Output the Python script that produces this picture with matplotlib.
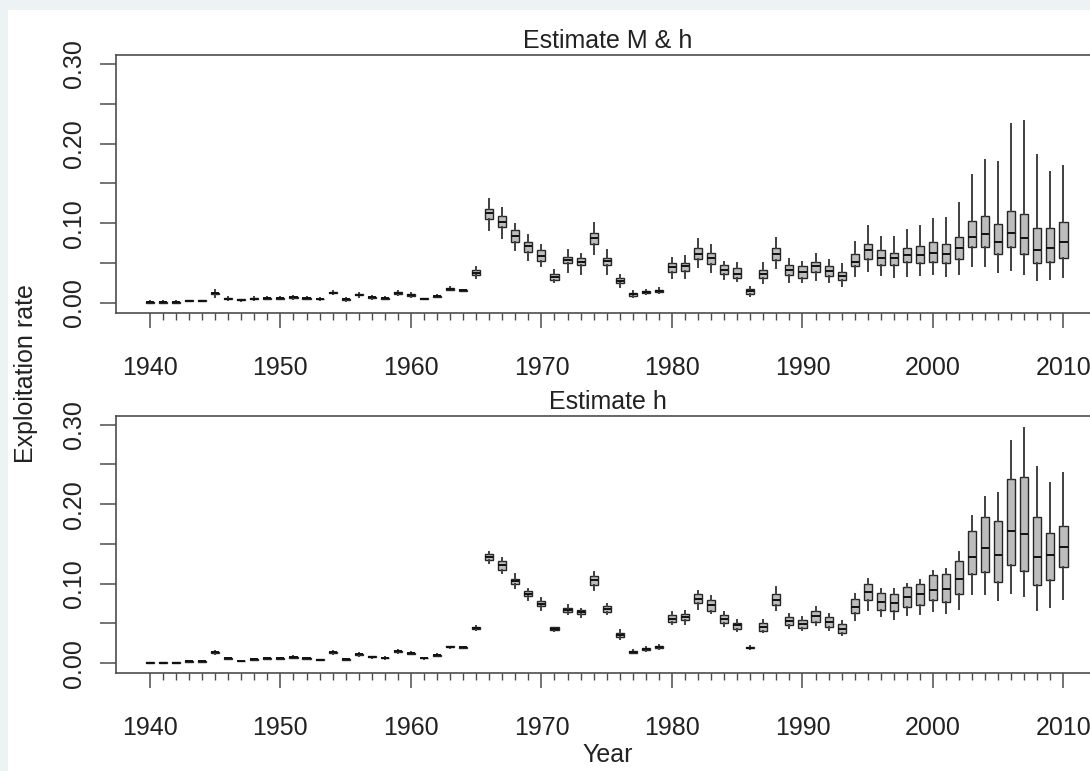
import matplotlib
matplotlib.use("Agg")
import matplotlib.pyplot as plt
from matplotlib.patches import Rectangle
from matplotlib.ticker import FixedLocator, NullFormatter

plt.rcParams['font.family'] = ['Liberation Sans', 'DejaVu Sans']

years = list(range(1940, 2011))
decades = [1940, 1950, 1960, 1970, 1980, 1990, 2000, 2010]
decade_labels = ['1940', '1950', '1960', '1970', '1980', '1990', '2000', '2010']
rate_ticks = [0.0, 0.1, 0.2, 0.3]
rate_labels = ['0.00', '0.10', '0.20', '0.30']
rate_minor = [0.05, 0.15, 0.25]

# exploitation rate summaries, run "Estimate M & h"
mh_lo = [0.000, 0.000, 0.000, 0.002, 0.002, 0.008, 0.004, 0.003, 0.004, 0.005,
         0.005, 0.005, 0.005, 0.004, 0.011, 0.003, 0.008, 0.005, 0.005, 0.010,
         0.008, 0.0045, 0.007, 0.016, 0.015, 0.032, 0.092, 0.082, 0.067, 0.054,
         0.046, 0.027, 0.039, 0.036, 0.062, 0.037, 0.020, 0.007, 0.011, 0.012,
         0.032, 0.031, 0.045, 0.039, 0.030, 0.028, 0.009, 0.0255, 0.0435, 0.027,
         0.027, 0.029, 0.027, 0.021, 0.034, 0.0405, 0.035, 0.033, 0.034, 0.035,
         0.037, 0.034, 0.037, 0.046, 0.046, 0.039, 0.042, 0.037, 0.029, 0.030,
         0.033]
mh_q1 = [0.0005, 0.0005, 0.0005, 0.0025, 0.0025, 0.011, 0.005, 0.0035, 0.005, 0.0055,
         0.0055, 0.006, 0.0055, 0.0045, 0.012, 0.004, 0.0095, 0.0065, 0.0055, 0.0115,
         0.009, 0.005, 0.008, 0.017, 0.0155, 0.035, 0.105, 0.095, 0.077, 0.064,
         0.053, 0.029, 0.050, 0.048, 0.074, 0.048, 0.025, 0.009, 0.0125, 0.0135,
         0.039, 0.0405, 0.055, 0.049, 0.037, 0.031, 0.011, 0.031, 0.054, 0.035,
         0.032, 0.039, 0.034, 0.029, 0.046, 0.055, 0.048, 0.048, 0.051, 0.050,
         0.052, 0.050, 0.055, 0.070, 0.070, 0.0615, 0.070, 0.0615, 0.050, 0.052,
         0.057]
mh_med = [0.001, 0.001, 0.001, 0.003, 0.003, 0.012, 0.0055, 0.004, 0.0055, 0.006,
          0.006, 0.007, 0.006, 0.005, 0.013, 0.0045, 0.0105, 0.007, 0.006, 0.0125,
          0.010, 0.0055, 0.0084, 0.018, 0.016, 0.038, 0.1125, 0.102, 0.084, 0.071,
          0.059, 0.033, 0.054, 0.052, 0.081, 0.053, 0.028, 0.011, 0.014, 0.0155,
          0.045, 0.046, 0.062, 0.056, 0.042, 0.037, 0.0146, 0.036, 0.062, 0.042,
          0.039, 0.046, 0.0405, 0.034, 0.052, 0.066, 0.057, 0.056, 0.060, 0.060,
          0.063, 0.0615, 0.069, 0.083, 0.087, 0.076, 0.088, 0.081, 0.067, 0.069,
          0.077]
mh_q3 = [0.0015, 0.0015, 0.0015, 0.0035, 0.0035, 0.013, 0.006, 0.0045, 0.006, 0.0065,
         0.0065, 0.008, 0.0065, 0.0055, 0.014, 0.005, 0.0115, 0.0075, 0.0065, 0.0135,
         0.011, 0.006, 0.009, 0.019, 0.0165, 0.041, 0.1175, 0.109, 0.092, 0.077,
         0.066, 0.037, 0.058, 0.056, 0.088, 0.057, 0.031, 0.013, 0.0155, 0.017,
         0.050, 0.0505, 0.069, 0.063, 0.048, 0.0435, 0.0175, 0.041, 0.069, 0.048,
         0.046, 0.052, 0.046, 0.039, 0.0615, 0.074, 0.066, 0.063, 0.069, 0.071,
         0.076, 0.074, 0.083, 0.103, 0.109, 0.099, 0.116, 0.112, 0.094, 0.094,
         0.102]
mh_hi = [0.002, 0.002, 0.002, 0.004, 0.004, 0.016, 0.007, 0.005, 0.007, 0.008,
         0.008, 0.009, 0.007, 0.006, 0.015, 0.006, 0.013, 0.009, 0.007, 0.015,
         0.012, 0.0065, 0.010, 0.020, 0.017, 0.045, 0.130, 0.119, 0.099, 0.085,
         0.073, 0.041, 0.066, 0.062, 0.100, 0.067, 0.035, 0.0155, 0.016, 0.019,
         0.056, 0.059, 0.080, 0.073, 0.052, 0.050, 0.020, 0.050, 0.081, 0.055,
         0.052, 0.062, 0.054, 0.049, 0.076, 0.097, 0.083, 0.083, 0.092, 0.097,
         0.105, 0.107, 0.125, 0.161, 0.180, 0.177, 0.225, 0.228, 0.186, 0.164,
         0.172]

# exploitation rate summaries, run "Estimate h"
h_lo = [0.000, 0.000, 0.000, 0.001, 0.001, 0.012, 0.005, 0.002, 0.0038, 0.005,
        0.005, 0.006, 0.005, 0.0035, 0.012, 0.0035, 0.009, 0.007, 0.005, 0.013,
        0.011, 0.0055, 0.009, 0.019, 0.019, 0.042, 0.126, 0.1133, 0.0949, 0.0799,
        0.0673, 0.0406, 0.0615, 0.0581, 0.0916, 0.0615, 0.0297, 0.0121, 0.0155, 0.018,
        0.0489, 0.0497, 0.0686, 0.0632, 0.0464, 0.0405, 0.0175, 0.0389, 0.0665, 0.0447,
        0.0414, 0.0477, 0.0422, 0.0351, 0.0548, 0.0673, 0.059, 0.056, 0.0602, 0.0623,
        0.0657, 0.0632, 0.0686, 0.0866, 0.0866, 0.079, 0.0883, 0.084, 0.0673, 0.0707,
        0.0811]
h_q1 = [0.000, 0.000, 0.000, 0.0015, 0.0015, 0.013, 0.0055, 0.0022, 0.0042, 0.0055,
        0.0055, 0.0065, 0.0055, 0.0038, 0.013, 0.004, 0.010, 0.0075, 0.0058, 0.014,
        0.0115, 0.006, 0.0095, 0.020, 0.0193, 0.043, 0.130, 0.1175, 0.0991, 0.084,
        0.0715, 0.0414, 0.0649, 0.0615, 0.0979, 0.0649, 0.033, 0.013, 0.0163, 0.019,
        0.0518, 0.0539, 0.0757, 0.0657, 0.0506, 0.0435, 0.0188, 0.0405, 0.0728, 0.0477,
        0.0447, 0.0518, 0.0456, 0.038, 0.0632, 0.079, 0.0665, 0.0657, 0.0707, 0.0728,
        0.079, 0.077, 0.0866, 0.1116, 0.1146, 0.102, 0.123, 0.1158, 0.0979, 0.1041,
        0.1209]
h_med = [0.0004, 0.0004, 0.0004, 0.002, 0.002, 0.0138, 0.0059, 0.0025, 0.0046, 0.0059,
         0.0059, 0.0071, 0.0059, 0.0042, 0.0138, 0.0046, 0.0109, 0.008, 0.0063, 0.0146,
         0.0121, 0.0063, 0.010, 0.0205, 0.0197, 0.0443, 0.1334, 0.123, 0.1033, 0.0874,
         0.0749, 0.0431, 0.0673, 0.0648, 0.1041, 0.0682, 0.0356, 0.0142, 0.018, 0.0205,
         0.056, 0.0581, 0.0811, 0.0728, 0.056, 0.0477, 0.0196, 0.0456, 0.0799, 0.0531,
         0.0497, 0.059, 0.0518, 0.0435, 0.0707, 0.0895, 0.0769, 0.0757, 0.0833, 0.0866,
         0.0924, 0.0937, 0.1062, 0.1334, 0.1451, 0.1355, 0.1661, 0.1627, 0.1334, 0.1355,
         0.146]
h_q3 = [0.001, 0.001, 0.001, 0.0025, 0.0025, 0.0145, 0.0065, 0.003, 0.005, 0.0065,
        0.0065, 0.0078, 0.0065, 0.0048, 0.0145, 0.005, 0.0115, 0.0085, 0.0068, 0.0152,
        0.0127, 0.0068, 0.0105, 0.021, 0.020, 0.0455, 0.1368, 0.1284, 0.1062, 0.0907,
        0.0782, 0.0448, 0.0699, 0.0673, 0.1091, 0.0715, 0.0381, 0.0155, 0.0196, 0.022,
        0.0602, 0.0623, 0.0866, 0.0799, 0.0602, 0.0506, 0.0205, 0.0506, 0.0874, 0.0582,
        0.0548, 0.0657, 0.0582, 0.0489, 0.0811, 0.0999, 0.0882, 0.0874, 0.0958, 0.0999,
        0.1104, 0.1116, 0.1284, 0.1661, 0.1836, 0.1794, 0.2317, 0.2338, 0.1836, 0.1635,
        0.1731]
h_hi = [0.0012, 0.0012, 0.0012, 0.003, 0.003, 0.0155, 0.007, 0.0032, 0.0055, 0.007,
        0.007, 0.0085, 0.007, 0.0052, 0.0155, 0.0055, 0.0125, 0.009, 0.0075, 0.017,
        0.0135, 0.007, 0.011, 0.022, 0.0205, 0.047, 0.1397, 0.1326, 0.1125, 0.0937,
        0.0824, 0.0456, 0.0728, 0.0686, 0.1146, 0.0749, 0.0414, 0.0163, 0.0205, 0.023,
        0.0644, 0.0657, 0.0907, 0.084, 0.0644, 0.0539, 0.0215, 0.0539, 0.0958, 0.0615,
        0.0582, 0.0707, 0.0623, 0.0531, 0.0874, 0.1062, 0.0937, 0.0937, 0.0999, 0.1049,
        0.1158, 0.1187, 0.1397, 0.1857, 0.2095, 0.2137, 0.2798, 0.2965, 0.2463, 0.2262,
        0.2388]


def make_stats(lo, q1, med, q3, hi):
    stats = []
    for a, b, c, d, e in zip(lo, q1, med, q3, hi):
        stats.append(dict(whislo=a, q1=b, med=c, q3=d, whishi=e))
    return stats


def draw_panel(ax, stats, title):
    ax.bxp(stats, positions=years, widths=0.62, patch_artist=True,
           showfliers=False, showcaps=False, manage_ticks=False,
           boxprops=dict(facecolor='#bdbdbd', edgecolor='#262626', linewidth=1.0),
           whiskerprops=dict(color='#404040', linewidth=1.4),
           medianprops=dict(color='#111111', linewidth=1.4))

    ax.set_xlim(1937.4, 2012.8)
    ax.set_ylim(-0.0125, 0.311)

    # decade ticks labelled, one short tick per year
    ax.xaxis.set_major_locator(FixedLocator(decades))
    ax.set_xticklabels(decade_labels)
    ax.xaxis.set_minor_locator(FixedLocator(years))
    ax.xaxis.set_minor_formatter(NullFormatter())
    ax.tick_params(axis='x', which='major', length=11, width=1.1, pad=20,
                   labelsize=18, colors='#4d4d4d', labelcolor='#222222')
    ax.tick_params(axis='x', which='minor', length=5, width=1.0, colors='#4d4d4d')

    ax.yaxis.set_major_locator(FixedLocator(rate_ticks))
    ax.set_yticklabels(rate_labels)
    ax.yaxis.set_minor_locator(FixedLocator(rate_minor))
    ax.yaxis.set_minor_formatter(NullFormatter())
    ax.tick_params(axis='y', which='both', length=11.5, width=1.1, colors='#4d4d4d')
    ax.tick_params(axis='y', which='major', pad=10, labelsize=18,
                   labelrotation=90, labelcolor='#222222')
    for lab in ax.get_yticklabels():
        lab.set_verticalalignment('center')

    for side in ['left', 'bottom', 'top', 'right']:
        ax.spines[side].set_color('#4d4d4d')
        ax.spines[side].set_linewidth(1.2)

    ax.set_title(title, fontsize=18, color='#222222', pad=5)


fig = plt.figure(figsize=(10.9, 7.71), dpi=100)
fig.patch.set_facecolor('#edf2f5')
fig.add_artist(Rectangle((8 / 1090, 0), 1, 1 - 10 / 771, transform=fig.transFigure,
                         facecolor='white', edgecolor='none', zorder=0))

ax1 = fig.add_axes([0.1064, 0.594, 0.9028, 0.3346])
ax2 = fig.add_axes([0.1064, 0.1271, 0.9028, 0.3333])

draw_panel(ax1, make_stats(mh_lo, mh_q1, mh_med, mh_q3, mh_hi), 'Estimate M & h')
draw_panel(ax2, make_stats(h_lo, h_q1, h_med, h_q3, h_hi), 'Estimate h')

fig.text(608 / 1090, 1 - 762 / 771, 'Year', fontsize=18, color='#222222',
         ha='center', va='baseline')
fig.text(26 / 1090, 0.516, 'Exploitation rate', fontsize=18, color='#222222',
         rotation=90, ha='center', va='center')

fig.savefig('out.png', dpi=100, facecolor=fig.get_facecolor())
